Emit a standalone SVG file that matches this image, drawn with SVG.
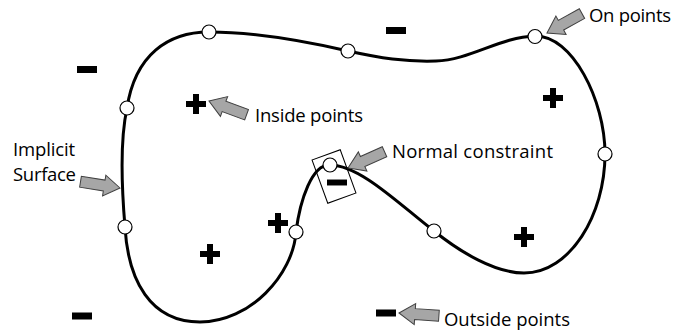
<svg xmlns="http://www.w3.org/2000/svg" xmlns:xlink="http://www.w3.org/1999/xlink" width="676" height="333" viewBox="0 0 676 333">
  <style>
    .curve { fill: none; stroke: #000; stroke-width: 3; }
    .pt { fill: #fff; stroke: #000; stroke-width: 1.2; }
    .lbl { font-family: "Open Sans", "Liberation Sans", sans-serif; font-size: 18.5px; fill: #000; }
    .arr { fill: #a6a6a6; stroke: #404040; stroke-width: 1; stroke-linejoin: miter; }
    .sign { fill: #000; }
    .box { fill: none; stroke: #000; stroke-width: 1; }
  </style>
  <defs>
    <path id="arrow" class="arr" d="M0,0 L16,-10.5 L16,-5.5 L40,-5.5 L40,5.5 L16,5.5 L16,10.5 Z"/>
    <path id="plus" class="sign" d="M-3,-10 h6 v7 h7 v6 h-7 v7 h-6 v-7 h-7 v-6 h7 z"/>
    <rect id="minus" class="sign" x="-10" y="-3.5" width="20" height="7"/>
  </defs>
  <rect width="676" height="333" fill="#fff"/>

  <g id="connectors">
    <path id="surface" class="curve" d="M209,32 C255,32 300,40 348,51 C380,58 405,62 436,61 C470,60 500,37 535,36 C572,35 605,100 605,154 C605,215 570,273 524,273 C495,273 460,252 434,231 C400,205 360,165 330,165 C312,164 300,200 296,232 C293,275 250,322 200,322 C150,322 128,280 125,227 C121,180 120,140 127,108 C135,55 168,32 209,32 Z"/>
  </g>

  <g id="normal-box">
    <rect class="box" x="-15" y="-23" width="30" height="46" transform="translate(334,176.5) rotate(-20)"/>
    <use xlink:href="#minus" href="#minus" transform="translate(337,182.5) scale(1,0.85)"/>
  </g>

  <g id="on-points">
    <circle class="pt" cx="209" cy="32" r="7"/>
    <circle class="pt" cx="348" cy="51" r="7"/>
    <circle class="pt" cx="535" cy="36.5" r="7"/>
    <circle class="pt" cx="605" cy="154" r="7"/>
    <circle class="pt" cx="434" cy="231" r="7"/>
    <circle class="pt" cx="330" cy="165" r="7"/>
    <circle class="pt" cx="296" cy="232" r="7"/>
    <circle class="pt" cx="125" cy="227" r="7"/>
    <circle class="pt" cx="127" cy="108" r="7"/>
  </g>

  <g id="inside-points">
    <use xlink:href="#plus" href="#plus" x="196" y="104"/>
    <use xlink:href="#plus" href="#plus" x="553" y="98"/>
    <use xlink:href="#plus" href="#plus" x="524" y="237"/>
    <use xlink:href="#plus" href="#plus" x="278" y="223"/>
    <use xlink:href="#plus" href="#plus" x="210" y="254"/>
  </g>

  <g id="outside-points">
    <use xlink:href="#minus" href="#minus" x="87" y="69.5"/>
    <use xlink:href="#minus" href="#minus" x="396" y="30.5"/>
    <use xlink:href="#minus" href="#minus" x="82" y="316"/>
    <use xlink:href="#minus" href="#minus" x="386" y="313"/>
  </g>

  <g id="label-on-points">
    <use xlink:href="#arrow" href="#arrow" transform="translate(547,33) rotate(-29)"/>
    <text class="lbl" x="589" y="22" textLength="82">On points</text>
  </g>
  <g id="label-inside-points">
    <use xlink:href="#arrow" href="#arrow" transform="translate(209,101) rotate(20)"/>
    <text class="lbl" x="255" y="122" textLength="108">Inside points</text>
  </g>
  <g id="label-normal-constraint">
    <use xlink:href="#arrow" href="#arrow" transform="translate(348,168) rotate(-24)"/>
    <text class="lbl" x="392" y="157.5" textLength="161">Normal constraint</text>
  </g>
  <g id="label-implicit-surface">
    <use xlink:href="#arrow" href="#arrow" transform="translate(120,188) rotate(189)"/>
    <text class="lbl" x="13" y="156" textLength="62">Implicit</text>
    <text class="lbl" x="13" y="180.5" textLength="63">Surface</text>
  </g>
  <g id="label-outside-points">
    <use xlink:href="#arrow" href="#arrow" transform="translate(399,313) rotate(4)"/>
    <text class="lbl" x="444" y="326" textLength="126">Outside points</text>
  </g>
</svg>
